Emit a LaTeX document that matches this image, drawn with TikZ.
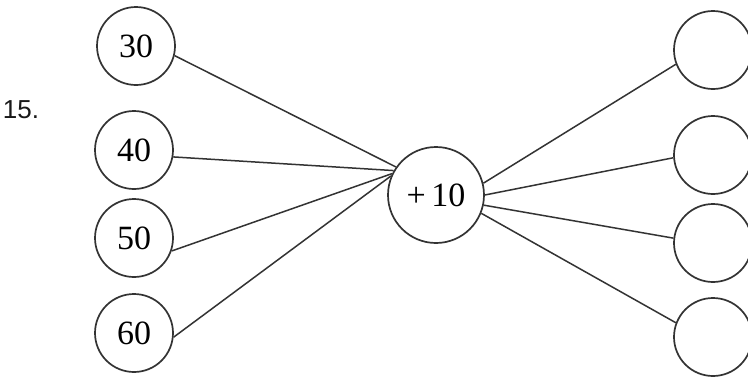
\documentclass[tikz,border=0pt]{standalone}
\usepackage{fontspec}
\setmainfont{Liberation Serif}
\newfontfamily\labelsans{Liberation Sans}
\begin{document}
\begin{tikzpicture}[x=1pt,y=-1pt,
  ink/.style={draw=black!80,line width=1.7pt},
  num/.style={ink,circle,minimum size=78pt,inner sep=0pt,font=\fontsize{34}{40}\selectfont},
  hub/.style={ink,circle,minimum size=96pt,inner sep=0pt,font=\fontsize{34}{40}\selectfont},
  wire/.style={draw=black!80,line width=1.5pt}]
\useasboundingbox[fill=white] (0,0) rectangle (748,381);
\node[font=\labelsans\fontsize{26}{30}\selectfont,text=black!90] (q) at (21,110) {15.};
\node[num] (a30) at (136,46) {30};
\node[num] (a40) at (134,150) {40};
\node[num] (a50) at (134,238) {50};
\node[num] (a60) at (134,333) {60};
\node[hub] (c) at (436,195) {+\,10};
\node[num] (b1) at (713,50) {};
\node[num] (b2) at (713,155) {};
\node[num] (b3) at (713,243) {};
\node[num] (b4) at (713,337) {};
\draw[wire] (a30.-14) -- (c.145);
\draw[wire] (a40.-10) -- (c.150);
\draw[wire] (a50.-19) -- (c.154);
\draw[wire] (a60.-6) -- (c.157);
\draw[wire] (c.14) -- (b1.201);
\draw[wire] (c.0) -- (b2.184);
\draw[wire] (c.-12) -- (b3.173);
\draw[wire] (c.-22) -- (b4.159);
\end{tikzpicture}
\end{document}
